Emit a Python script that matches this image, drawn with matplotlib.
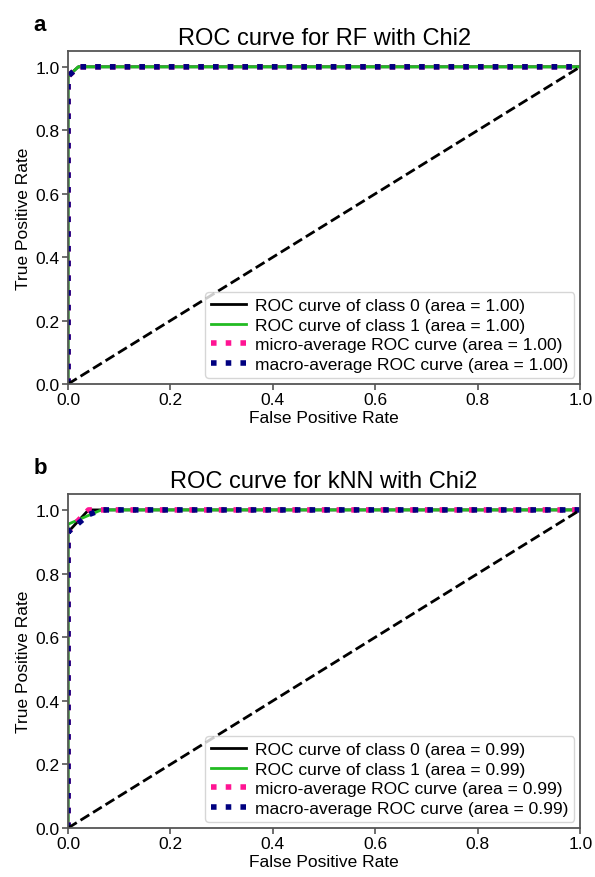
import matplotlib

matplotlib.use("Agg")
import matplotlib.pyplot as plt

plt.rcParams["font.family"] = ["Liberation Sans", "DejaVu Sans"]

# panel a: RF with Chi2
rf_fpr0 = [0.0, 0.0, 0.02, 1.0]
rf_tpr0 = [0.0, 0.97, 1.0, 1.0]
rf_fpr1 = [0.0, 0.0, 0.02, 1.0]
rf_tpr1 = [0.0, 0.97, 1.0, 1.0]
rf_fpr_micro = [0.0, 0.0, 0.02, 1.0]
rf_tpr_micro = [0.0, 0.97, 1.0, 1.0]
rf_fpr_macro = [0.0, 0.0, 0.02, 1.0]
rf_tpr_macro = [0.0, 0.97, 1.0, 1.0]
rf_auc = ["1.00", "1.00", "1.00", "1.00"]

# panel b: kNN with Chi2
knn_fpr0 = [0.0, 0.0, 0.04, 1.0]
knn_tpr0 = [0.0, 0.93, 1.0, 1.0]
knn_fpr1 = [0.0, 0.0, 0.065, 1.0]
knn_tpr1 = [0.0, 0.955, 1.0, 1.0]
knn_fpr_micro = [0.0, 0.0, 0.01, 0.04, 1.0]
knn_tpr_micro = [0.0, 0.93, 0.95, 1.0, 1.0]
knn_fpr_macro = [0.0, 0.0, 0.04, 0.065, 1.0]
knn_tpr_macro = [0.0, 0.93, 0.985, 1.0, 1.0]
knn_auc = ["0.99", "0.99", "0.99", "0.99"]

panels = [
    ("a", "ROC curve for RF with Chi2",
     [(rf_fpr0, rf_tpr0), (rf_fpr1, rf_tpr1), (rf_fpr_micro, rf_tpr_micro), (rf_fpr_macro, rf_tpr_macro)],
     rf_auc),
    ("b", "ROC curve for kNN with Chi2",
     [(knn_fpr0, knn_tpr0), (knn_fpr1, knn_tpr1), (knn_fpr_micro, knn_tpr_micro), (knn_fpr_macro, knn_tpr_macro)],
     knn_auc),
]

fig = plt.figure(figsize=(5.95, 8.78), dpi=100)
ax_a = fig.add_axes([0.1143, 0.5615, 0.861, 0.3793])
ax_b = fig.add_axes([0.1143, 0.0558, 0.861, 0.3804])
frame = "#555555"

for ax, (letter, title, curves, aucs) in zip([ax_a, ax_b], panels):
    (f0, t0), (f1, t1), (fmi, tmi), (fma, tma) = curves
    ax.plot(f0, t0, color="black", lw=2,
            label="ROC curve of class 0 (area = %s)" % aucs[0])
    ax.plot(f1, t1, color="#22bb22", lw=2,
            label="ROC curve of class 1 (area = %s)" % aucs[1])
    ax.plot(fmi, tmi, color="deeppink", lw=4, linestyle=":",
            label="micro-average ROC curve (area = %s)" % aucs[2])
    ax.plot(fma, tma, color="navy", lw=4, linestyle=":",
            label="macro-average ROC curve (area = %s)" % aucs[3])
    ax.plot([0, 1], [0, 1], "k--", lw=2)
    ax.set_xlim(0.0, 1.0)
    ax.set_ylim(0.0, 1.05)
    ax.set_xlabel("False Positive Rate", fontsize=12.5, labelpad=2)
    ax.set_ylabel("True Positive Rate", fontsize=12.5, labelpad=3)
    ax.set_title(title, fontsize=17, pad=5)
    ax.tick_params(labelsize=12.5, color=frame, width=1.2, length=4, pad=2)
    for sp in ax.spines.values():
        sp.set_color(frame)
        sp.set_linewidth(1.3)
    leg = ax.legend(loc="lower right", fontsize=12.5, labelspacing=0.25,
                    handletextpad=0.5, borderpad=0.35, borderaxespad=0.35)
    ax.text(-0.055, 1.08, letter, transform=ax.transAxes, fontsize=16,
            fontweight="bold", va="center", ha="center")

fig.savefig("out.png", dpi=100)
